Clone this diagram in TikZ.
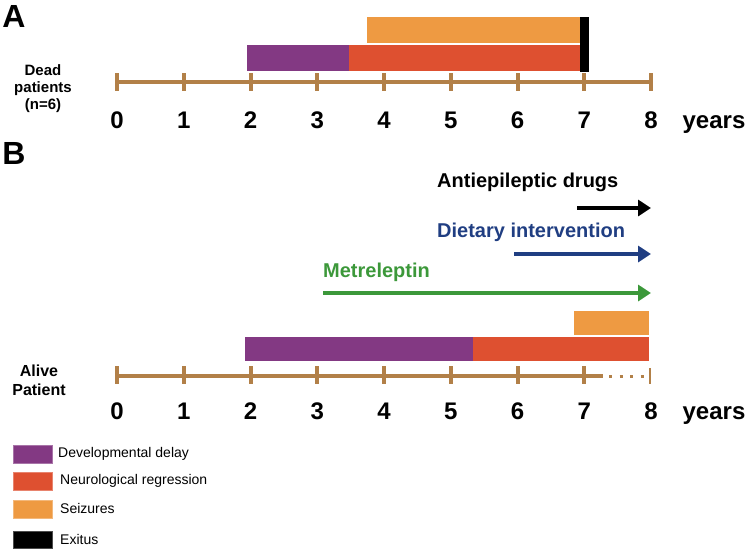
\documentclass[tikz,border=0pt]{standalone}
\usepackage{fontspec}
\setmainfont{Liberation Sans}
\usetikzlibrary{arrows.meta}
\definecolor{cpurple}{RGB}{131,57,131}
\definecolor{cred}{RGB}{222,80,48}
\definecolor{corange}{RGB}{238,154,66}
\definecolor{caxis}{RGB}{178,128,72}
\definecolor{cgreen}{RGB}{60,152,58}
\definecolor{cblue}{RGB}{32,62,130}
\begin{document}
\begin{tikzpicture}[x=1pt,y=-1pt,
  axisline/.style={caxis,line width=3.5pt},
  tickst/.style={caxis,line width=4pt},
  num/.style={font=\fontsize{24}{28}\selectfont\bfseries,inner sep=0pt,anchor=base},
  panel/.style={font=\fontsize{32}{36}\selectfont\bfseries,inner sep=0pt},
  side/.style={font=\fontsize{15}{17}\selectfont\bfseries,align=center,inner sep=0pt},
  treat/.style={font=\fontsize{20}{24}\selectfont\bfseries,inner sep=0pt,anchor=west},
  arr/.style={line width=4.5pt,-{Triangle[length=13pt,width=16pt]}},
  legbox/.style={line width=0.6pt},
  legtext/.style={font=\fontsize{14}{16}\selectfont,inner sep=0pt,anchor=west}]
\useasboundingbox (0,0) rectangle (751,552);

% ---------- Panel A ----------
\node[panel] (A) at (14,16) {A};
\node[side] (dead) at (43,89) {Dead\\patients\\(n=6)};
\fill[corange] (367,17) rectangle (581,43);
\fill[cpurple] (247,45) rectangle (349,71);
\fill[cred] (349,45) rectangle (581,71);
\fill[black] (580,17) rectangle (589,72);
\draw[axisline] (117,82) -- (651,82);
\foreach \i in {0,...,8}{
  \draw[tickst] (117+66.75*\i,73) -- (117+66.75*\i,91);
  \node[num] (a\i) at (117+66.75*\i,128) {\i};
}
\node[num] (ya) at (714,128) {years};

% ---------- Panel B ----------
\node[panel] (B) at (14,153) {B};
\node[treat] (aed) at (437,182) {Antiepileptic drugs};
\coordinate (aedS) at (577,208);
\coordinate (aedE) at (651,208);
\draw[arr,black] (aedS) -- (aedE);
\node[treat,text=cblue] (diet) at (437,232) {Dietary intervention};
\coordinate (dietS) at (514,254);
\coordinate (dietE) at (651,254);
\draw[arr,cblue] (dietS) -- (dietE);
\node[treat,text=cgreen] (met) at (323,272) {Metreleptin};
\coordinate (metS) at (323,293);
\coordinate (metE) at (651,293);
\draw[arr,cgreen] (metS) -- (metE);

\fill[corange] (574,311) rectangle (649,335);
\fill[cpurple] (245,337) rectangle (473,361);
\fill[cred] (473,337) rectangle (649,361);

\node[side,font=\fontsize{16}{19}\selectfont\bfseries] (alive) at (39,380) {Alive\\Patient};
\draw[axisline] (117,376) -- (603,376);
\draw[caxis,line width=3pt,dash pattern=on 3pt off 7.5pt] (609,376) -- (645,376);
\foreach \i in {0,...,7}{
  \draw[tickst] (117+66.75*\i,366) -- (117+66.75*\i,384);
}
\draw[caxis,line width=2pt] (650,368) -- (650,384);
\foreach \i in {0,...,8}{
  \node[num] (b\i) at (117+66.75*\i,419) {\i};
}
\node[num] (yb) at (714,419) {years};

% ---------- Legend ----------
\filldraw[legbox,fill=cpurple,draw=cpurple!70!white] (13,445) rectangle (52,463);
\node[legtext] (l1) at (58,454) {Developmental delay};
\filldraw[legbox,fill=cred,draw=cred!70!white] (13,472) rectangle (52,490);
\node[legtext] (l2) at (60,481) {Neurological regression};
\filldraw[legbox,fill=corange,draw=corange!70!white] (13,500) rectangle (52,518);
\node[legtext] (l3) at (60,508) {Seizures};
\filldraw[legbox,fill=black,draw=black!70!white] (13,531) rectangle (52,548);
\node[legtext] (l4) at (60,539) {Exitus};
\end{tikzpicture}
\end{document}
